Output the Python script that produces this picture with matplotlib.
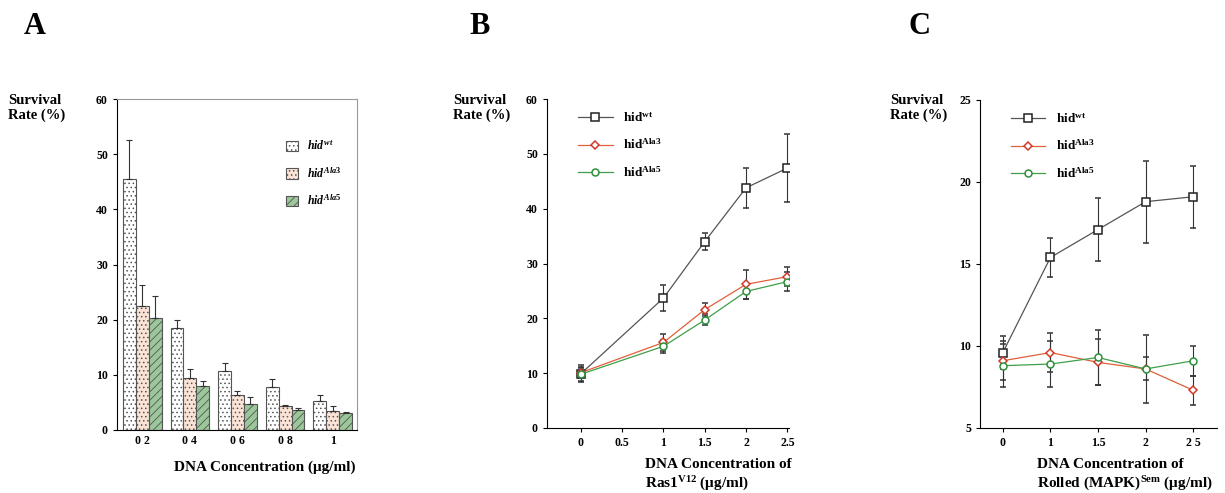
import numpy as np
import matplotlib
matplotlib.use("Agg")
import matplotlib.pyplot as plt
from matplotlib.lines import Line2D
from matplotlib.patches import Patch

plt.rcParams['font.family'] = ['Liberation Serif', 'DejaVu Serif']
plt.rcParams['font.weight'] = 'bold'
plt.rcParams['mathtext.fontset'] = 'custom'
plt.rcParams['mathtext.rm'] = 'Liberation Serif:bold'
plt.rcParams['mathtext.bf'] = 'Liberation Serif:bold'
plt.rcParams['mathtext.it'] = 'Liberation Serif:italic:bold'
plt.rcParams['hatch.linewidth'] = 0.6

series_names = ['wt', 'Ala3', 'Ala5']

# panel A: bars
a_labels = ['0 2', '0 4', '0 6', '0 8', '1']
a_wt = [45.5, 18.4, 10.7, 7.8, 5.3]
a_wt_err = [7.0, 1.5, 1.4, 1.4, 1.0]
a_ala3 = [22.5, 9.4, 6.4, 4.3, 3.4]
a_ala3_err = [3.7, 1.7, 0.6, 0.3, 0.9]
a_ala5 = [20.3, 8.0, 4.8, 3.7, 3.0]
a_ala5_err = [4.0, 0.8, 1.1, 0.3, 0.3]

# panel B: Ras1 V12
b_x = [0, 1, 1.5, 2, 2.5]
b_wt = [9.9, 23.7, 34.0, 43.8, 47.4]
b_wt_err = [1.5, 2.4, 1.6, 3.6, 6.2]
b_ala3 = [10.1, 15.6, 21.6, 26.2, 27.6]
b_ala3_err = [1.0, 1.6, 1.2, 2.7, 1.7]
b_ala5 = [9.8, 14.9, 19.7, 24.9, 26.7]
b_ala5_err = [1.2, 1.2, 1.0, 1.4, 1.8]

# panel C: Rolled (MAPK) Sem
c_labels = ['0', '1', '1.5', '2', '2 5']
c_wt = [9.6, 15.4, 17.1, 18.8, 19.1]
c_wt_err = [1.0, 1.2, 1.9, 2.5, 1.9]
c_ala3 = [9.1, 9.6, 9.0, 8.6, 7.3]
c_ala3_err = [1.2, 1.2, 1.4, 2.1, 0.9]
c_ala5 = [8.8, 8.9, 9.3, 8.6, 9.1]
c_ala5_err = [1.3, 1.4, 1.7, 0.7, 0.9]

W, H = 1225, 493
fig = plt.figure(figsize=(W / 100, H / 100), dpi=100)


def box(l, r, t, b):
    return [l / W, 1 - b / H, (r - l) / W, (b - t) / H]


def leg_label(s, italic=False):
    if italic:
        return r'$\mathit{hid}^{\mathit{' + s + '}}$'
    return r'hid$^{\mathbf{' + s + '}}$'


tick_kw = dict(labelsize=8.5, length=3, width=0.8, direction='out')

# ---------- A ----------
axA = fig.add_axes(box(117, 357, 99, 430))
x = np.arange(len(a_labels))
bw = 0.27
faces = ['white', '#fbe3d6', '#9cc79a']
hatches = ['....', '....', '////']
for i, (vals, errs) in enumerate([(a_wt, a_wt_err), (a_ala3, a_ala3_err), (a_ala5, a_ala5_err)]):
    axA.bar(x + (i - 1) * bw, vals, bw, color=faces[i], edgecolor='#555555',
            hatch=hatches[i], linewidth=0.8)
    axA.errorbar(x + (i - 1) * bw, vals, yerr=[np.zeros(len(vals)), errs], fmt='none',
                 ecolor='#333333', elinewidth=0.8, capsize=2.5, capthick=0.8)
axA.set_xlim(-0.53, 4.51)
axA.set_ylim(0, 60)
axA.set_yticks([0, 10, 20, 30, 40, 50, 60])
axA.set_xticks(x)
axA.set_xticklabels(a_labels)
axA.tick_params(**tick_kw)
axA.tick_params(axis='x', length=0)
for s in ['top', 'right']:
    axA.spines[s].set_color('#999999')
handles = [Patch(facecolor=faces[i], edgecolor='#555555', hatch=hatches[i], linewidth=0.8)
           for i in range(3)]
axA.legend(handles, [leg_label(s, True) for s in series_names], loc='upper right',
           bbox_to_anchor=(0.98, 0.91), frameon=False, fontsize=8.5, handlelength=1.0,
           handleheight=1.0, labelspacing=1.1)

# ---------- line panels ----------
colors = ['#222222', '#d03a2a', '#2f8f3a']
lcolors = ['#555555', '#e0603a', '#3f9f4a']
markers = ['s', 'D', 'o']
msizes = [6, 4, 5]


def line_panel(ax, xs, data):
    for i, (vals, errs) in enumerate(data):
        ax.errorbar(xs, vals, yerr=errs, color=lcolors[i], lw=0.9, marker=markers[i],
                    ms=msizes[i], mfc='white', mec=colors[i], mew=1.1,
                    ecolor='#333333', elinewidth=0.8, capsize=2.5, capthick=0.8)
    for s in ['top', 'right']:
        ax.spines[s].set_visible(False)
    ax.tick_params(**tick_kw)
    hs = [Line2D([], [], color=lcolors[i], lw=0.9, marker=markers[i], ms=msizes[i],
                 mfc='white', mec=colors[i], mew=1.1) for i in range(3)]
    ax.legend(hs, [leg_label(s) for s in series_names], loc='upper left',
              bbox_to_anchor=(0.08, 1.0), frameon=False, fontsize=9.5, handlelength=2.6,
              labelspacing=1.0)


# ---------- B ----------
axB = fig.add_axes(box(547, 789, 99, 428))
line_panel(axB, b_x, [(b_wt, b_wt_err), (b_ala3, b_ala3_err), (b_ala5, b_ala5_err)])
axB.set_xlim(-0.41, 2.52)
axB.set_ylim(0, 60)
axB.set_xticks([0, 0.5, 1, 1.5, 2, 2.5])
axB.set_xticklabels(['0', '0.5', '1', '1.5', '2', '2.5'])
axB.set_yticks([0, 10, 20, 30, 40, 50, 60])

# ---------- C ----------
axC = fig.add_axes(box(980, 1217, 100, 428))
xc = np.arange(len(c_labels))
line_panel(axC, xc, [(c_wt, c_wt_err), (c_ala3, c_ala3_err), (c_ala5, c_ala5_err)])
axC.set_xlim(-0.48, 4.5)
axC.set_ylim(5, 25)
axC.set_yticks([5, 10, 15, 20, 25])
axC.set_xticks(xc)
axC.set_xticklabels(c_labels)

# x axis titles
fig.text(265 / W, 1 - 467 / H, 'DNA Concentration (μg/ml)', fontsize=11,
         fontweight='bold', ha='center', va='center')
fig.text(645 / W, 1 - 464 / H, 'DNA Concentration of', fontsize=11,
         fontweight='bold', ha='left', va='center')
fig.text(645 / W, 1 - 484 / H, 'Ras1$^{\\mathrm{V12}}$ (μg/ml)', fontsize=11,
         fontweight='bold', ha='left', va='center')
fig.text(1037 / W, 1 - 464 / H, 'DNA Concentration of', fontsize=11,
         fontweight='bold', ha='left', va='center')
fig.text(1037 / W, 1 - 484 / H, 'Rolled (MAPK)$^{\\mathrm{Sem}}$ (μg/ml)', fontsize=11,
         fontweight='bold', ha='left', va='center')

# panel letters and y labels
for px, letter in [(35, 'A'), (480, 'B'), (920, 'C')]:
    fig.text(px / W, 1 - 26 / H, letter, fontsize=22, fontweight='bold', ha='center', va='center')
for px in [8, 453, 890]:
    fig.text(px / W, 1 - 94 / H, 'Survival\nRate (%)', fontsize=10.5, fontweight='bold',
             ha='left', va='top', linespacing=1.15)

fig.savefig('out.png', dpi=100)
